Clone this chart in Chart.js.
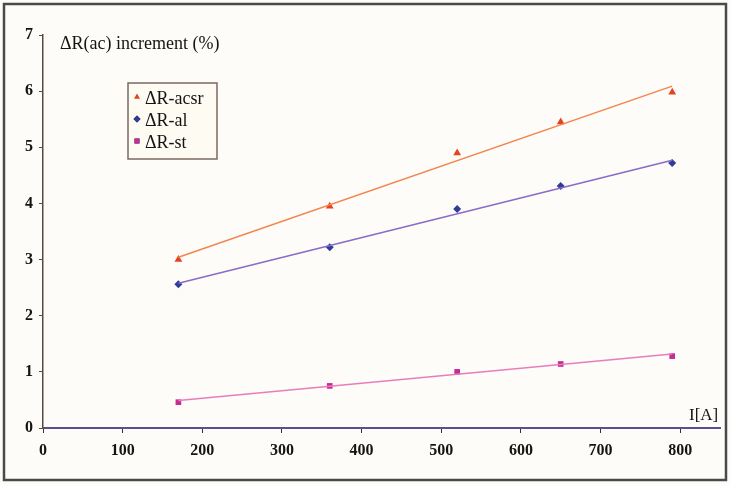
<!DOCTYPE html>
<html>
<head>
<meta charset="utf-8">
<script src="https://cdn.jsdelivr.net/npm/chart.js@4.4.1/dist/chart.umd.min.js"></script>
<style>
  html, body { margin: 0; padding: 0; background: #fdfcf8; }
  #wrap { width: 730px; height: 486px; }
</style>
</head>
<body>
<div id="wrap"><canvas id="chart" width="730" height="486"></canvas></div>
<script>
// current values (A)
const currents = [170, 360, 520, 650, 790];

// measured increments (%)
const acsrValues = [3.0, 3.95, 4.9, 5.45, 5.98];
const alValues = [2.56, 3.22, 3.9, 4.31, 4.72];
const stValues = [0.46, 0.75, 1.0, 1.14, 1.28];

// trend line end points
const trendX = [170, 790];
const acsrTrend = [3.04, 6.09];
const alTrend = [2.58, 4.77];
const stTrend = [0.49, 1.32];

const xTicks = [0, 100, 200, 300, 400, 500, 600, 700, 800];
const yTicks = [0, 1, 2, 3, 4, 5, 6, 7];

const seriesNames = ['\u0394R-acsr', '\u0394R-al', '\u0394R-st'];
const yTitle = '\u0394R(ac) increment (%)';
const xTitle = 'I[A]';

const serif = '"Liberation Serif", "DejaVu Serif", serif';

const pts = (xs, ys) => xs.map((x, i) => ({ x: x, y: ys[i] }));

function trendSet(ys, color) {
    return {
        data: pts(trendX, ys),
        showLine: true,
        borderColor: color,
        borderWidth: 1.5,
        pointRadius: 0,
    };
}

function markerSet(label, ys, color, style, r) {
    return {
        label: label,
        data: pts(currents, ys),
        showLine: false,
        backgroundColor: color,
        borderColor: color,
        pointStyle: style,
        pointRadius: r,
        borderWidth: 0,
    };
}

const markers = [
    markerSet(seriesNames[0], acsrValues, '#e5431f', 'triangle', 4.5),
    markerSet(seriesNames[1], alValues, '#2f3c98', 'rectRot', 4),
    markerSet(seriesNames[2], stValues, '#c82a98', 'rect', 4),
];

// frame, axis titles and the boxed legend
const decor = {
    id: 'decor',
    beforeDraw(chart) {
        const c = chart.ctx;
        c.save();
        c.fillStyle = '#fdfcf8';
        c.fillRect(0, 0, chart.width, chart.height);
        c.restore();
    },
    afterDraw(chart) {
        const c = chart.ctx;
        c.save();
        c.strokeStyle = '#4a4a4a';
        c.lineWidth = 2.5;
        c.strokeRect(4, 4, 722, 476);

        c.fillStyle = '#141414';
        c.font = '18px ' + serif;
        c.textBaseline = 'middle';
        c.textAlign = 'left';
        c.fillText(yTitle, 60, 44);
        c.font = '17px ' + serif;
        c.fillText(xTitle, 689, 416);

        // legend
        c.fillStyle = '#fdfbf2';
        c.fillRect(128, 83, 89, 76);
        c.strokeStyle = '#7a6a62';
        c.lineWidth = 1.5;
        c.strokeRect(128, 83, 89, 76);
        markers.forEach((ds, i) => {
            const y = 99 + i * 22;
            Chart.helpers.drawPoint(c, {
                pointStyle: ds.pointStyle,
                radius: 3.5,
                borderWidth: 0,
            }, 137, y - 2);
            c.fillStyle = ds.backgroundColor;
            c.fill();
            c.fillStyle = '#141414';
            c.font = '18px ' + serif;
            c.fillText(ds.label, 145, y);
        });
        c.restore();
    }
};

new Chart(document.getElementById('chart'), {
    type: 'scatter',
    data: {
        datasets: [
            trendSet(acsrTrend, '#f2864f'),
            trendSet(alTrend, '#8a6cc6'),
            trendSet(stTrend, '#ea7cbc'),
            ...markers,
        ]
    },
    options: {
        responsive: false,
        animation: false,
        layout: { padding: { top: 35, right: 10, left: 0, bottom: 0 } },
        plugins: {
            legend: { display: false },
            tooltip: { enabled: false },
        },
        scales: {
            x: {
                type: 'linear',
                min: 0,
                max: 850,
                afterBuildTicks: s => { s.ticks = xTicks.map(v => ({ value: v })); },
                afterFit: s => { s.height = 58; },
                border: { color: '#5b4f93', width: 2 },
                grid: { drawOnChartArea: false, color: '#333', tickLength: 5 },
                ticks: {
                    color: '#141414',
                    padding: 8,
                    font: { family: serif, size: 16, weight: 'bold' },
                },
            },
            y: {
                min: 0,
                max: 7,
                afterBuildTicks: s => { s.ticks = yTicks.map(v => ({ value: v })); },
                afterFit: s => { s.width = 43; },
                border: { color: '#5a4a3c', width: 1.5 },
                grid: { drawOnChartArea: false, color: '#5a4a3c', tickLength: 4 },
                ticks: {
                    color: '#141414',
                    padding: 6,
                    font: { family: serif, size: 16, weight: 'bold' },
                },
            },
        },
    },
    plugins: [decor],
});
</script>
</body>
</html>
